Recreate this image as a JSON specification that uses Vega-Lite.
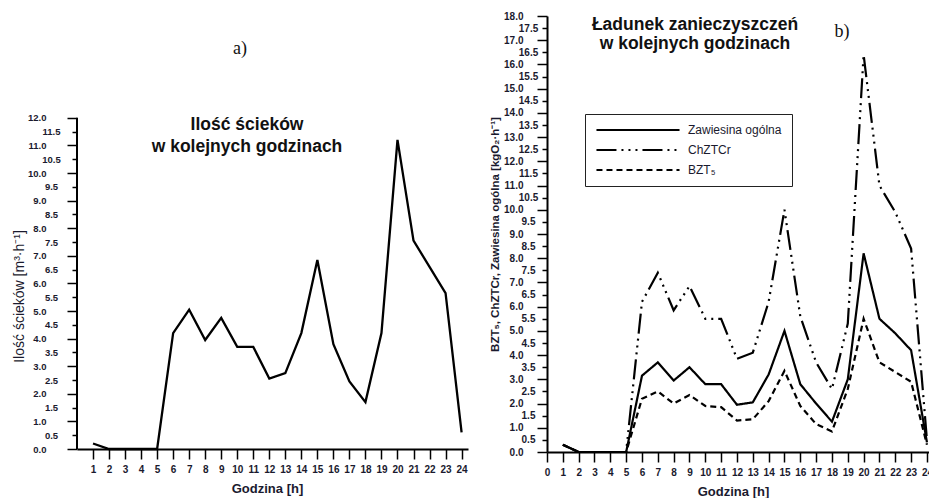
{
  "$schema": "https://vega.github.io/schema/vega-lite/v6.json",
  "padding": {"left": 12, "top": 11, "right": 0, "bottom": 0},
  "background": "white",
  "datasets": {
    "flow": [
      {"godzina": 1, "ilosc": 0.2}, {"godzina": 2, "ilosc": 0}, {"godzina": 3, "ilosc": 0}, {"godzina": 4, "ilosc": 0},
      {"godzina": 5, "ilosc": 0}, {"godzina": 6, "ilosc": 4.2}, {"godzina": 7, "ilosc": 5.05}, {"godzina": 8, "ilosc": 3.95},
      {"godzina": 9, "ilosc": 4.75}, {"godzina": 10, "ilosc": 3.7}, {"godzina": 11, "ilosc": 3.7}, {"godzina": 12, "ilosc": 2.55},
      {"godzina": 13, "ilosc": 2.75}, {"godzina": 14, "ilosc": 4.2}, {"godzina": 15, "ilosc": 6.85}, {"godzina": 16, "ilosc": 3.8},
      {"godzina": 17, "ilosc": 2.45}, {"godzina": 18, "ilosc": 1.7}, {"godzina": 19, "ilosc": 4.2}, {"godzina": 20, "ilosc": 11.2},
      {"godzina": 21, "ilosc": 7.55}, {"godzina": 22, "ilosc": 6.6}, {"godzina": 23, "ilosc": 5.65}, {"godzina": 24, "ilosc": 0.6}
    ],
    "load": [
      {"godzina": 1, "wskaznik": "Zawiesina ogólna", "ladunek": 0.3},
      {"godzina": 2, "wskaznik": "Zawiesina ogólna", "ladunek": 0},
      {"godzina": 3, "wskaznik": "Zawiesina ogólna", "ladunek": 0},
      {"godzina": 4, "wskaznik": "Zawiesina ogólna", "ladunek": 0},
      {"godzina": 5, "wskaznik": "Zawiesina ogólna", "ladunek": 0},
      {"godzina": 6, "wskaznik": "Zawiesina ogólna", "ladunek": 3.15},
      {"godzina": 7, "wskaznik": "Zawiesina ogólna", "ladunek": 3.7},
      {"godzina": 8, "wskaznik": "Zawiesina ogólna", "ladunek": 2.95},
      {"godzina": 9, "wskaznik": "Zawiesina ogólna", "ladunek": 3.5},
      {"godzina": 10, "wskaznik": "Zawiesina ogólna", "ladunek": 2.8},
      {"godzina": 11, "wskaznik": "Zawiesina ogólna", "ladunek": 2.8},
      {"godzina": 12, "wskaznik": "Zawiesina ogólna", "ladunek": 1.95},
      {"godzina": 13, "wskaznik": "Zawiesina ogólna", "ladunek": 2.05},
      {"godzina": 14, "wskaznik": "Zawiesina ogólna", "ladunek": 3.2},
      {"godzina": 15, "wskaznik": "Zawiesina ogólna", "ladunek": 5.0},
      {"godzina": 16, "wskaznik": "Zawiesina ogólna", "ladunek": 2.8},
      {"godzina": 17, "wskaznik": "Zawiesina ogólna", "ladunek": 2.0},
      {"godzina": 18, "wskaznik": "Zawiesina ogólna", "ladunek": 1.25},
      {"godzina": 19, "wskaznik": "Zawiesina ogólna", "ladunek": 3.0},
      {"godzina": 20, "wskaznik": "Zawiesina ogólna", "ladunek": 8.2},
      {"godzina": 21, "wskaznik": "Zawiesina ogólna", "ladunek": 5.5},
      {"godzina": 22, "wskaznik": "Zawiesina ogólna", "ladunek": 4.9},
      {"godzina": 23, "wskaznik": "Zawiesina ogólna", "ladunek": 4.2},
      {"godzina": 24, "wskaznik": "Zawiesina ogólna", "ladunek": 0.4},
      {"godzina": 1, "wskaznik": "ChZTCr", "ladunek": 0.3},
      {"godzina": 2, "wskaznik": "ChZTCr", "ladunek": 0},
      {"godzina": 3, "wskaznik": "ChZTCr", "ladunek": 0},
      {"godzina": 4, "wskaznik": "ChZTCr", "ladunek": 0},
      {"godzina": 5, "wskaznik": "ChZTCr", "ladunek": 0},
      {"godzina": 6, "wskaznik": "ChZTCr", "ladunek": 6.2},
      {"godzina": 7, "wskaznik": "ChZTCr", "ladunek": 7.4},
      {"godzina": 8, "wskaznik": "ChZTCr", "ladunek": 5.85},
      {"godzina": 9, "wskaznik": "ChZTCr", "ladunek": 6.85},
      {"godzina": 10, "wskaznik": "ChZTCr", "ladunek": 5.5},
      {"godzina": 11, "wskaznik": "ChZTCr", "ladunek": 5.5},
      {"godzina": 12, "wskaznik": "ChZTCr", "ladunek": 3.85},
      {"godzina": 13, "wskaznik": "ChZTCr", "ladunek": 4.1},
      {"godzina": 14, "wskaznik": "ChZTCr", "ladunek": 6.2},
      {"godzina": 15, "wskaznik": "ChZTCr", "ladunek": 10.0},
      {"godzina": 16, "wskaznik": "ChZTCr", "ladunek": 5.6},
      {"godzina": 17, "wskaznik": "ChZTCr", "ladunek": 3.7},
      {"godzina": 18, "wskaznik": "ChZTCr", "ladunek": 2.6},
      {"godzina": 19, "wskaznik": "ChZTCr", "ladunek": 5.3},
      {"godzina": 20, "wskaznik": "ChZTCr", "ladunek": 16.4},
      {"godzina": 21, "wskaznik": "ChZTCr", "ladunek": 11.0},
      {"godzina": 22, "wskaznik": "ChZTCr", "ladunek": 9.9},
      {"godzina": 23, "wskaznik": "ChZTCr", "ladunek": 8.4},
      {"godzina": 24, "wskaznik": "ChZTCr", "ladunek": 0.5},
      {"godzina": 1, "wskaznik": "BZT₅", "ladunek": 0.3},
      {"godzina": 2, "wskaznik": "BZT₅", "ladunek": 0},
      {"godzina": 3, "wskaznik": "BZT₅", "ladunek": 0},
      {"godzina": 4, "wskaznik": "BZT₅", "ladunek": 0},
      {"godzina": 5, "wskaznik": "BZT₅", "ladunek": 0},
      {"godzina": 6, "wskaznik": "BZT₅", "ladunek": 2.2},
      {"godzina": 7, "wskaznik": "BZT₅", "ladunek": 2.5},
      {"godzina": 8, "wskaznik": "BZT₅", "ladunek": 2.0},
      {"godzina": 9, "wskaznik": "BZT₅", "ladunek": 2.35},
      {"godzina": 10, "wskaznik": "BZT₅", "ladunek": 1.9},
      {"godzina": 11, "wskaznik": "BZT₅", "ladunek": 1.85},
      {"godzina": 12, "wskaznik": "BZT₅", "ladunek": 1.3},
      {"godzina": 13, "wskaznik": "BZT₅", "ladunek": 1.35},
      {"godzina": 14, "wskaznik": "BZT₅", "ladunek": 2.1},
      {"godzina": 15, "wskaznik": "BZT₅", "ladunek": 3.35},
      {"godzina": 16, "wskaznik": "BZT₅", "ladunek": 1.9},
      {"godzina": 17, "wskaznik": "BZT₅", "ladunek": 1.15},
      {"godzina": 18, "wskaznik": "BZT₅", "ladunek": 0.85},
      {"godzina": 19, "wskaznik": "BZT₅", "ladunek": 2.6},
      {"godzina": 20, "wskaznik": "BZT₅", "ladunek": 5.5},
      {"godzina": 21, "wskaznik": "BZT₅", "ladunek": 3.7},
      {"godzina": 22, "wskaznik": "BZT₅", "ladunek": 3.3},
      {"godzina": 23, "wskaznik": "BZT₅", "ladunek": 2.9},
      {"godzina": 24, "wskaznik": "BZT₅", "ladunek": 0.3}
    ]
  },
  "hconcat": [
    {
      "width": 391,
      "height": 433,
      "layer": [
        {
          "data": {"values": [{}]},
          "mark": {"type": "rule", "color": "black", "strokeWidth": 2},
          "encoding": {
            "x": {"datum": 0, "type": "quantitative"},
            "y": {"datum": 0, "type": "quantitative"},
            "y2": {"datum": 12}
          }
        },
        {
          "data": {"name": "flow"},
          "mark": {"type": "line", "color": "black", "strokeWidth": 2.3},
          "encoding": {
            "x": {
              "field": "godzina", "type": "quantitative",
              "scale": {"domain": [0, 24.4], "nice": false, "zero": false},
              "axis": {
                "values": [1,2,3,4,5,6,7,8,9,10,11,12,13,14,15,16,17,18,19,20,21,22,23,24],
                "tickCount": 100, "format": "d",
                "title": "Godzina [h]", "tickSize": 10, "labelPadding": 5, "labelOverlap": false,
                "labelFlush": false, "titlePadding": 8, "titleX": 190
              }
            },
            "y": {
              "field": "ilosc", "type": "quantitative",
              "scale": {"domain": [0, 15.69], "nice": false, "zero": true},
              "axis": {
                "values": [0,0.5,1,1.5,2,2.5,3,3.5,4,4.5,5,5.5,6,6.5,7,7.5,8,8.5,9,9.5,10,10.5,11,11.5,12],
                "tickCount": 100,
                "format": ".1f", "domain": false, "labelOverlap": false, "labelFontSize": 9.5,
                "tickSize": {"condition": {"test": "datum.value % 1 === 0", "value": 10}, "value": 5},
                "labelPadding": 21,
                "labelAlign": {"condition": {"test": "datum.value % 1 === 0", "value": "right"}, "value": "center"},
                "title": "Ilość ścieków [m³·h⁻¹]", "titleY": 280, "titlePadding": 1,
                "titleFontWeight": "normal", "titleFontSize": 14
              }
            }
          }
        },
        {
          "data": {"values": [{}]},
          "mark": {"type": "text", "text": "a)", "font": "Liberation Serif", "fontSize": 18, "align": "center", "baseline": "middle", "color": "#111"},
          "encoding": {"x": {"datum": 10.17, "type": "quantitative"}, "y": {"datum": 14.49, "type": "quantitative"}}
        },
        {
          "data": {"values": [{}]},
          "mark": {"type": "text", "text": ["Ilość ścieków", "w kolejnych godzinach"], "fontSize": 17.5, "fontWeight": "bold", "align": "center", "baseline": "alphabetic", "lineHeight": 22, "color": "#111"},
          "encoding": {"x": {"datum": 10.61, "type": "quantitative"}, "y": {"datum": 11.55, "type": "quantitative"}}
        }
      ]
    },
    {
      "width": 382,
      "height": 436,
      "layer": [
        {
          "data": {"name": "load"},
          "mark": {"type": "line", "color": "black", "strokeWidth": 2.2},
          "encoding": {
            "x": {
              "field": "godzina", "type": "quantitative",
              "scale": {"domain": [0, 24.13], "nice": false, "zero": false},
              "axis": {
                "values": [0,1,2,3,4,5,6,7,8,9,10,11,12,13,14,15,16,17,18,19,20,21,22,23,24],
                "tickCount": 100, "format": "d",
                "title": "Godzina [h]", "tickSize": 10, "labelPadding": 5, "labelOverlap": false,
                "labelFlush": false, "titlePadding": 8, "titleX": 186
              }
            },
            "y": {
              "field": "ladunek", "type": "quantitative",
              "scale": {"domain": [0, 18], "nice": false},
              "axis": {
                "values": [0,0.5,1,1.5,2,2.5,3,3.5,4,4.5,5,5.5,6,6.5,7,7.5,8,8.5,9,9.5,10,10.5,11,11.5,12,12.5,13,13.5,14,14.5,15,15.5,16,16.5,17,17.5,18],
                "tickCount": 100,
                "format": ".1f", "labelOverlap": false,
                "tickSize": {"condition": {"test": "datum.value % 1 === 0", "value": 10}, "value": 5},
                "labelPadding": 14,
                "labelAlign": {"condition": {"test": "datum.value % 1 === 0", "value": "right"}, "value": "center"},
                "title": "BZT₅, ChZTCr, Zawiesina ogólna [kgO₂·h⁻¹]", "titlePadding": 3,
                "titleFontSize": 11.5
              }
            },
            "strokeDash": {
              "field": "wskaznik", "type": "nominal",
              "scale": {"domain": ["Zawiesina ogólna", "ChZTCr", "BZT₅"], "range": [[1, 0], [20, 5, 2, 5, 2, 5, 2, 5], [6, 4]]},
              "legend": {
                "orient": "none", "legendX": 508, "legendY": 98, "title": null,
                "strokeColor": "#222", "padding": 10,
                "symbolType": "M-10,0H10", "symbolSize": 69, "symbolOffset": 37,
                "symbolStrokeWidth": 2.2, "symbolStrokeColor": "black", "symbolFillColor": "transparent",
                "labelFontSize": 12, "labelOffset": 44, "labelColor": "#1a1a2e", "rowPadding": 8
              }
            }
          }
        },
        {
          "data": {"values": [{}]},
          "mark": {"type": "text", "text": ["Ładunek zanieczyszczeń", "w kolejnych godzinach"], "fontSize": 17.5, "fontWeight": "bold", "align": "center", "baseline": "alphabetic", "lineHeight": 18.5, "color": "#111"},
          "encoding": {"x": {"datum": 9.35, "type": "quantitative"}, "y": {"datum": 17.41, "type": "quantitative"}}
        },
        {
          "data": {"values": [{}]},
          "mark": {"type": "text", "text": "b)", "font": "Liberation Serif", "fontSize": 18, "align": "center", "baseline": "middle", "color": "#111"},
          "encoding": {"x": {"datum": 18.64, "type": "quantitative"}, "y": {"datum": 17.34, "type": "quantitative"}}
        }
      ]
    }
  ],
  "spacing": 79,
  "bounds": "flush",
  "config": {
    "font": "Liberation Sans",
    "view": {"stroke": null},
    "axis": {
      "grid": false, "domainColor": "black", "domainWidth": 2, "tickColor": "black", "tickWidth": 1.5,
      "labelOverlap": false, "labelBound": false,
      "labelFont": "Liberation Sans", "labelFontSize": 10, "labelFontWeight": "bold", "labelColor": "#1a1a2e",
      "titleFont": "Liberation Sans", "titleFontSize": 13, "titleFontWeight": "bold", "titleColor": "#1a1a2e"
    }
  }
}
